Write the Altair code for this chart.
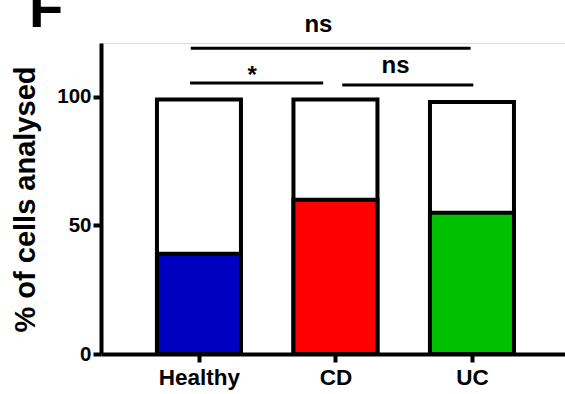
import altair as alt
import pandas as pd

# Groups and the share of cells (%) in each bar
groups = ["Healthy", "CD", "UC"]
positive_pct = [39, 60, 55]
total_pct = [99, 99, 98]
fill_colors = ["#0000C0", "#FF0000", "#00C000"]

# Significance brackets between groups (x in group-index units, y in %)
bracket_start = [-0.06, -0.065, 1.05]
bracket_end = [1.99, 0.91, 2.01]
bracket_level = [119.0, 105.4, 104.7]
bracket_text = ["ns", "*", "ns"]
bracket_text_x = [0.875, 0.39, 1.44]
bracket_text_y = [125.3, 105.6, 109.3]

FONT = "Liberation Sans"

bars = pd.DataFrame({
    "idx": list(range(len(groups))),
    "group": groups,
    "positive": positive_pct,
    "total": total_pct,
    "color": fill_colors,
})
brackets = pd.DataFrame({
    "x0": bracket_start,
    "x1": bracket_end,
    "y": bracket_level,
    "label": bracket_text,
    "lx": bracket_text_x,
    "ly": bracket_text_y,
})

x_scale = alt.Scale(domain=[-0.681, 2.645], nice=False, zero=False)
y_scale = alt.Scale(domain=[0, 121], nice=False)

label_expr = "[" + ",".join(f"'{g}'" for g in groups) + "][datum.value]"

x_axis = alt.Axis(
    values=[0, 1, 2], labelExpr=label_expr, title=None, grid=False,
    domainColor="black", domainWidth=4, tickColor="black", tickWidth=4,
    tickSize=8, labelFont=FONT, labelFontSize=22.5, labelFontWeight="bold",
    labelColor="black", labelPadding=4,
)
y_axis = alt.Axis(
    values=[0, 50, 100], title="% of cells analysed", grid=False,
    domainColor="black", domainWidth=4, tickColor="black", tickWidth=4,
    tickSize=8, labelFont=FONT, labelFontSize=20.5, labelFontWeight="bold",
    labelColor="black", labelPadding=2, titleFont=FONT, titleFontSize=29,
    titleFontWeight="bold", titleColor="black", titleX=-76, titleY=156,
    titleAngle=270, titleBaseline="middle", titleAlign="center",
)

base = alt.Chart(bars)

outline = base.mark_bar(
    size=84, fill="white", stroke="black", strokeWidth=4, strokeJoin="miter"
).encode(
    x=alt.X("idx:Q", scale=x_scale, axis=x_axis),
    y=alt.Y("total:Q", scale=y_scale, axis=y_axis),
)

filled = base.mark_bar(
    size=84, stroke="black", strokeWidth=4, strokeJoin="miter"
).encode(
    x=alt.X("idx:Q", scale=x_scale),
    y=alt.Y("positive:Q", scale=y_scale),
    fill=alt.Fill("color:N", scale=None),
)

rules = alt.Chart(brackets).mark_rule(color="black", strokeWidth=3).encode(
    x=alt.X("x0:Q", scale=x_scale),
    x2="x1:Q",
    y=alt.Y("y:Q", scale=y_scale),
)

texts = alt.Chart(brackets).mark_text(
    font=FONT, fontSize=24, fontWeight="bold", color="black",
    align="center", baseline="alphabetic",
).encode(
    x=alt.X("lx:Q", scale=x_scale),
    y=alt.Y("ly:Q", scale=y_scale),
    text="label:N",
)

panel_letter = alt.Chart(pd.DataFrame({"t": ["F"]})).mark_text(
    font=FONT, fontSize=56, fontWeight="bold", color="black",
    align="left", baseline="alphabetic",
).encode(
    x=alt.value(-72),
    y=alt.value(-16),
    text="t:N",
)

chart = alt.layer(outline, filled, rules, texts, panel_letter).properties(
    width=464,
    height=311,
    autosize=alt.AutoSizeParams(type="none"),
    padding={"left": 101, "top": 43, "right": 0, "bottom": 40},
).configure_view(stroke=None).configure(background="white")

chart.save("out.html", embed_options={"renderer": "svg", "actions": False})
